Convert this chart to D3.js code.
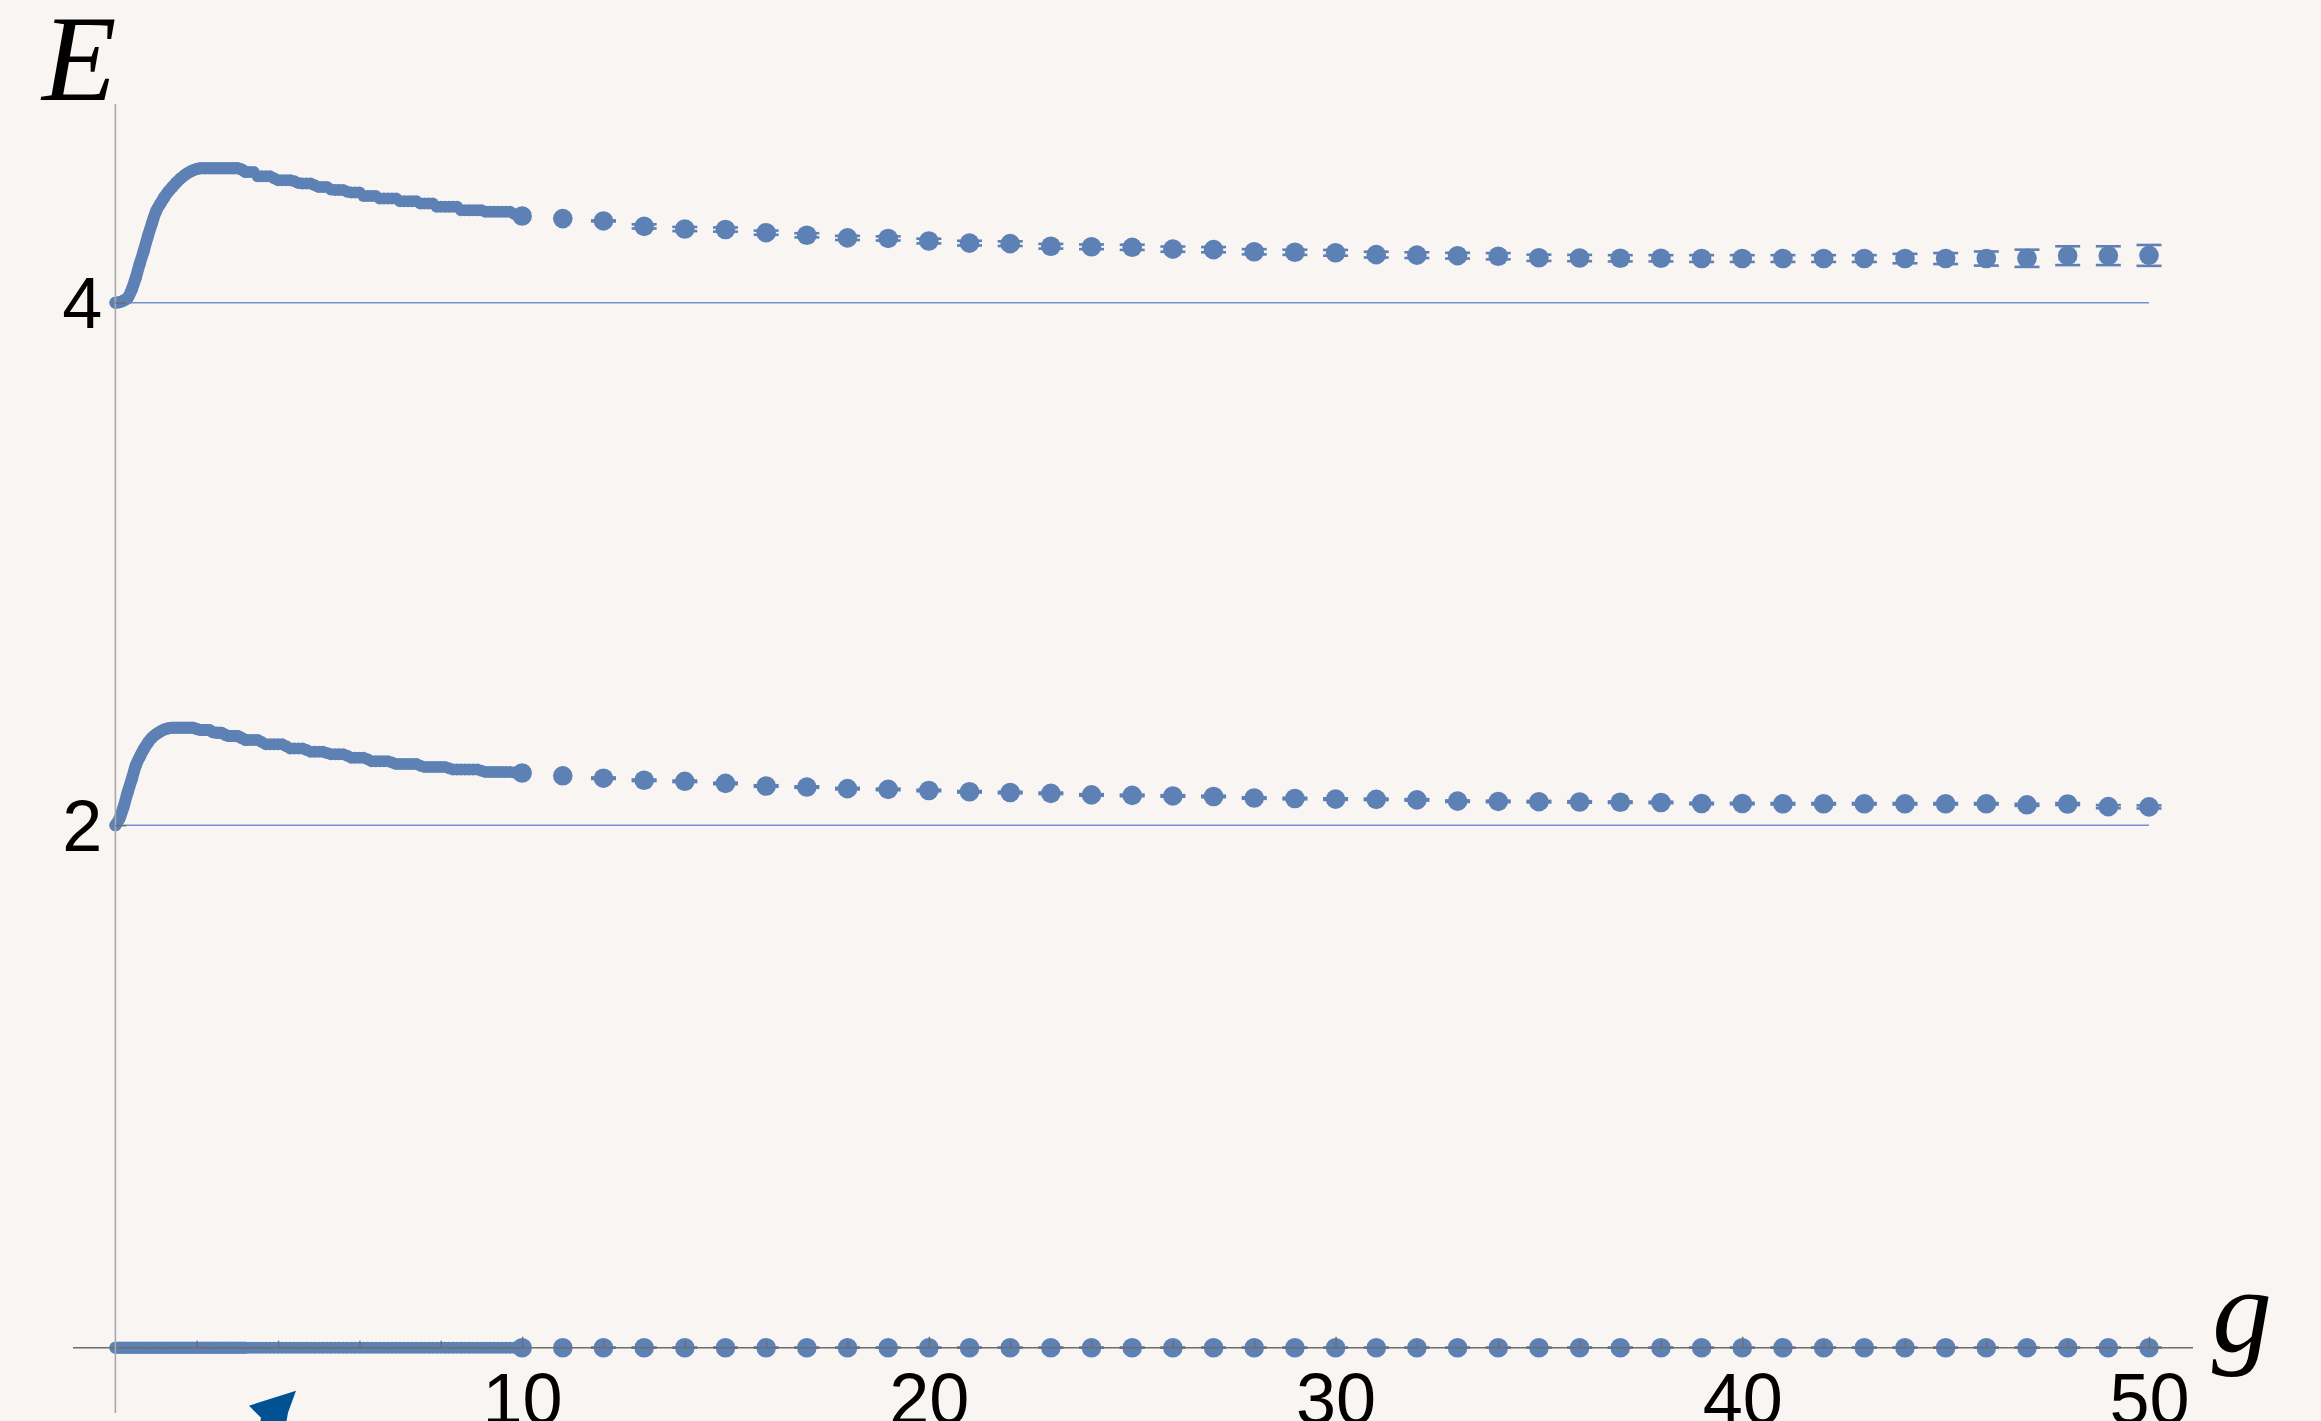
<!DOCTYPE html>
<html>
<head>
<meta charset="utf-8">
<script src="https://cdn.jsdelivr.net/npm/d3@7"></script>
<style>
  html, body { margin: 0; padding: 0; background: #f9f5f2; overflow: hidden; }
  svg { display: block; }
</style>
</head>
<body>
<svg id="chart" width="2321" height="1421"></svg>
<script>
// Energy levels E of the three lowest states versus coupling g.
// Dense sampling (step 0.1) on 0 <= g <= 10, integer samples with error bars for 10 <= g <= 50.

const denseG = d3.range(101).map(i => i / 10);
const intG = d3.range(10, 51);

const level0Dense = [
  0,0,0,0,0,0,0,0,0,0, 0,0,0,0,0,0,0,0,0,0,
  0,0,0,0,0,0,0,0,0,0, 0,0,0,0,0,0,0,0,0,0,
  0,0,0,0,0,0,0,0,0,0, 0,0,0,0,0,0,0,0,0,0,
  0,0,0,0,0,0,0,0,0,0, 0,0,0,0,0,0,0,0,0,0,
  0,0,0,0,0,0,0,0,0,0, 0,0,0,0,0,0,0,0,0,0,
  0
];

const level1Dense = [
  2.000, 2.025, 2.070, 2.125, 2.175, 2.228, 2.262, 2.292, 2.316, 2.335,
  2.348, 2.358, 2.366, 2.371, 2.373, 2.373, 2.373, 2.373, 2.373, 2.373,
  2.368, 2.364, 2.364, 2.364, 2.356, 2.354, 2.354, 2.346, 2.341, 2.341,
  2.341, 2.334, 2.326, 2.326, 2.326, 2.326, 2.318, 2.310, 2.310, 2.310,
  2.310, 2.310, 2.302, 2.294, 2.294, 2.294, 2.294, 2.288, 2.281, 2.281,
  2.281, 2.281, 2.276, 2.272, 2.272, 2.272, 2.272, 2.266, 2.258, 2.258,
  2.258, 2.258, 2.252, 2.245, 2.245, 2.245, 2.245, 2.245, 2.240, 2.234,
  2.234, 2.234, 2.234, 2.234, 2.234, 2.228, 2.223, 2.223, 2.223, 2.223,
  2.223, 2.223, 2.218, 2.213, 2.213, 2.213, 2.213, 2.213, 2.213, 2.213,
  2.208, 2.204, 2.204, 2.204, 2.204, 2.204, 2.204, 2.204, 2.202, 2.201,
  2.200
];

const level2Dense = [
  4.000, 4.002, 4.008, 4.018, 4.050, 4.095, 4.150, 4.200, 4.255, 4.305,
  4.350, 4.378, 4.403, 4.425, 4.443, 4.460, 4.475, 4.488, 4.498, 4.506,
  4.512, 4.515, 4.515, 4.515, 4.515, 4.515, 4.515, 4.515, 4.515, 4.515,
  4.515, 4.510, 4.500, 4.500, 4.500, 4.484, 4.484, 4.484, 4.484, 4.476,
  4.469, 4.469, 4.469, 4.469, 4.465, 4.458, 4.456, 4.456, 4.456, 4.450,
  4.443, 4.443, 4.443, 4.433, 4.431, 4.431, 4.431, 4.425, 4.422, 4.422,
  4.422, 4.408, 4.408, 4.408, 4.408, 4.399, 4.399, 4.399, 4.399, 4.399,
  4.388, 4.388, 4.388, 4.388, 4.388, 4.380, 4.380, 4.380, 4.380, 4.367,
  4.367, 4.367, 4.367, 4.367, 4.367, 4.354, 4.354, 4.354, 4.354, 4.354,
  4.354, 4.348, 4.348, 4.348, 4.348, 4.348, 4.348, 4.348, 4.340, 4.336,
  4.332
];

// integer-g samples, g = 10 ... 50
const level0Int = [
  0,0,0,0,0,0,0,0,0,0, 0,0,0,0,0,0,0,0,0,0,
  0,0,0,0,0,0,0,0,0,0, 0,0,0,0,0,0,0,0,0,0, 0
];
const level0Err = [
  null, null, 0,0,0,0,0,0,0,0, 0,0,0,0,0,0,0,0,0,0,
  0,0,0,0,0,0,0,0,0,0, 0,0,0,0,0,0,0,0,0,0, 0
];

const level1Int = [
  2.200, 2.189, 2.180, 2.172, 2.168, 2.160, 2.150, 2.146, 2.140, 2.137,
  2.133, 2.128, 2.125, 2.122, 2.116, 2.114, 2.112, 2.110, 2.104, 2.102,
  2.100, 2.099, 2.097, 2.092, 2.091, 2.090, 2.089, 2.088, 2.087, 2.083,
  2.083, 2.082, 2.082, 2.082, 2.082, 2.082, 2.082, 2.078, 2.081, 2.071,
  2.070
];
const level1Err = [
  null, null, 0.003, 0.003, 0.003, 0.003, 0.003, 0.003, 0.003, 0.003,
  0.003, 0.003, 0.003, 0.003, 0.003, 0.003, 0.003, 0.003, 0.003, 0.003,
  0.003, 0.003, 0.003, 0.003, 0.003, 0.003, 0.003, 0.003, 0.003, 0.003,
  0.003, 0.003, 0.003, 0.003, 0.003, 0.003, 0.003, 0.004, 0.004, 0.006,
  0.006
];

const level2Int = [
  4.332, 4.322, 4.313, 4.292, 4.282, 4.280, 4.268, 4.258, 4.248, 4.246,
  4.236, 4.228, 4.226, 4.216, 4.214, 4.212, 4.205, 4.203, 4.195, 4.193,
  4.191, 4.184, 4.182, 4.180, 4.178, 4.172, 4.171, 4.170, 4.170, 4.169,
  4.169, 4.169, 4.169, 4.169, 4.169, 4.169, 4.169, 4.170, 4.180, 4.180,
  4.181
];
const level2Err = [
  null, null, 0.002, 0.008, 0.008, 0.008, 0.008, 0.008, 0.008, 0.008,
  0.009, 0.009, 0.009, 0.009, 0.009, 0.010, 0.010, 0.010, 0.010, 0.010,
  0.011, 0.011, 0.011, 0.011, 0.012, 0.012, 0.012, 0.012, 0.012, 0.013,
  0.013, 0.013, 0.013, 0.013, 0.018, 0.021, 0.027, 0.033, 0.036, 0.036,
  0.040
];

const gridValues = [2, 4];
const yTickValues = [2, 4];
const xMajorTicks = [10, 20, 30, 40, 50];
const xMinorTicks = [2, 4, 6, 8, 12, 14, 16, 18, 22, 24, 26, 28, 32, 34, 36, 38, 42, 44, 46, 48];

const W = 2321, H = 1421;
const dotColor = "#5e81b5";
const smallR = 6;

const svg = d3.select("#chart");
svg.append("rect").attr("width", W).attr("height", H).attr("fill", "#f9f5f2");

const x = d3.scaleLinear().domain([0, 50]).range([115.4, 2149]);
const y = d3.scaleLinear().domain([0, 4]).range([1347.7, 302.7]);

// horizontal grid lines
svg.append("g").selectAll("line").data(gridValues).join("line")
  .attr("x1", x(0)).attr("x2", x(50))
  .attr("y1", d => y(d)).attr("y2", d => y(d))
  .attr("stroke", "#7492cc").attr("stroke-width", 1.4);

// dense small markers; on the steep low-g stretch the markers merge into a band
const denseSeries = [level0Dense, level1Dense, level2Dense];
const dense = svg.append("g");
const band = d3.line()
  .x((d, i) => x(denseG[i]))
  .y(d => y(d))
  .curve(d3.curveMonotoneX);
denseSeries.forEach(vals => {
  dense.append("path")
    .attr("d", band(vals.slice(0, 33)))
    .attr("fill", "none")
    .attr("stroke", dotColor)
    .attr("stroke-width", smallR * 2)
    .attr("stroke-linecap", "round")
    .attr("stroke-linejoin", "round");
  dense.append("g").attr("fill", dotColor).selectAll("circle").data(vals).join("circle")
    .attr("cx", (d, i) => x(denseG[i]))
    .attr("cy", d => y(d))
    .attr("r", smallR);
});

// integer samples with error bars
const intSeries = [
  { v: level0Int, e: level0Err },
  { v: level1Int, e: level1Err },
  { v: level2Int, e: level2Err }
];
const capHalf = 12.5;
const bars = svg.append("g").attr("stroke", dotColor).attr("stroke-width", 2.6).attr("fill", "none");
const big = svg.append("g").attr("fill", dotColor);
intSeries.forEach(s => {
  const pts = s.v.map((v, i) => ({ g: intG[i], v: v, e: s.e[i] }));
  const withErr = pts.filter(p => p.e !== null);
  bars.append("g").selectAll("line.v").data(withErr).join("line")
    .attr("x1", p => x(p.g)).attr("x2", p => x(p.g))
    .attr("y1", p => y(p.v - p.e)).attr("y2", p => y(p.v + p.e));
  bars.append("g").selectAll("line.t").data(withErr).join("line")
    .attr("x1", p => x(p.g) - capHalf).attr("x2", p => x(p.g) + capHalf)
    .attr("y1", p => y(p.v + p.e)).attr("y2", p => y(p.v + p.e));
  bars.append("g").selectAll("line.b").data(withErr).join("line")
    .attr("x1", p => x(p.g) - capHalf).attr("x2", p => x(p.g) + capHalf)
    .attr("y1", p => y(p.v - p.e)).attr("y2", p => y(p.v - p.e));
  big.append("g").selectAll("circle").data(pts).join("circle")
    .attr("cx", p => x(p.g)).attr("cy", p => y(p.v))
    .attr("r", 9.8);
});

// axes lines (extend beyond the plotted range)
svg.append("line")
  .attr("x1", 73).attr("x2", 2193)
  .attr("y1", y(0)).attr("y2", y(0))
  .attr("stroke", "#6d6d6d").attr("stroke-width", 1.6);
svg.append("line")
  .attr("x1", x(0)).attr("x2", x(0))
  .attr("y1", 104).attr("y2", 1413)
  .attr("stroke", "#a8a8a8").attr("stroke-width", 1.6);

const tickFont = "'Liberation Sans', Arial, sans-serif";

// x axis: minor ticks
const xMinor = d3.axisBottom(x).tickValues(xMinorTicks).tickSizeInner(-7).tickSizeOuter(0).tickFormat("");
const gxm = svg.append("g").attr("transform", `translate(0,${y(0)})`).call(xMinor);
gxm.select(".domain").remove();
gxm.selectAll(".tick line").attr("stroke", "#6d6d6d").attr("stroke-width", 1.4);

// x axis: major ticks with labels
const xMajor = d3.axisBottom(x).tickValues(xMajorTicks).tickSizeInner(-11).tickSizeOuter(0)
  .tickPadding(25).tickFormat(d3.format("d"));
const gx = svg.append("g").attr("transform", `translate(0,${y(0)})`).call(xMajor);
gx.select(".domain").remove();
gx.selectAll(".tick line").attr("stroke", "#6d6d6d").attr("stroke-width", 1.4);
gx.selectAll(".tick text")
  .attr("fill", "#000").attr("font-family", tickFont).attr("font-size", 72);

// y axis ticks with labels
const yAxis = d3.axisLeft(y).tickValues(yTickValues).tickSizeInner(-11).tickSizeOuter(0)
  .tickPadding(13).tickFormat(d3.format("d"));
const gy = svg.append("g").attr("transform", `translate(${x(0)},0)`).call(yAxis);
gy.select(".domain").remove();
gy.selectAll(".tick line").attr("stroke", "#6d6d6d").attr("stroke-width", 1.4);
gy.selectAll(".tick text")
  .attr("fill", "#000").attr("font-family", tickFont).attr("font-size", 72)
  .attr("dy", "0.35em");

// axis titles
const titleFont = "'Liberation Serif', 'Times New Roman', serif";
svg.append("text")
  .attr("x", 42).attr("y", 100)
  .attr("font-family", titleFont).attr("font-style", "italic").attr("font-size", 122)
  .attr("fill", "#000").text("E");
svg.append("text")
  .attr("x", 2212).attr("y", 1351)
  .attr("font-family", titleFont).attr("font-style", "italic").attr("font-size", 120)
  .attr("fill", "#000").text("g");

// pointer glyph near the lower edge
const ptr = { x: x(4.44), y: y(0) + 43 };
svg.append("path")
  .attr("transform", `translate(${ptr.x},${ptr.y})`)
  .attr("d", "M0,0 L-47,15 L-35,27 L-38,45 L-12,45 L-8,22 Z")
  .attr("fill", "#005293");
</script>
</body>
</html>
